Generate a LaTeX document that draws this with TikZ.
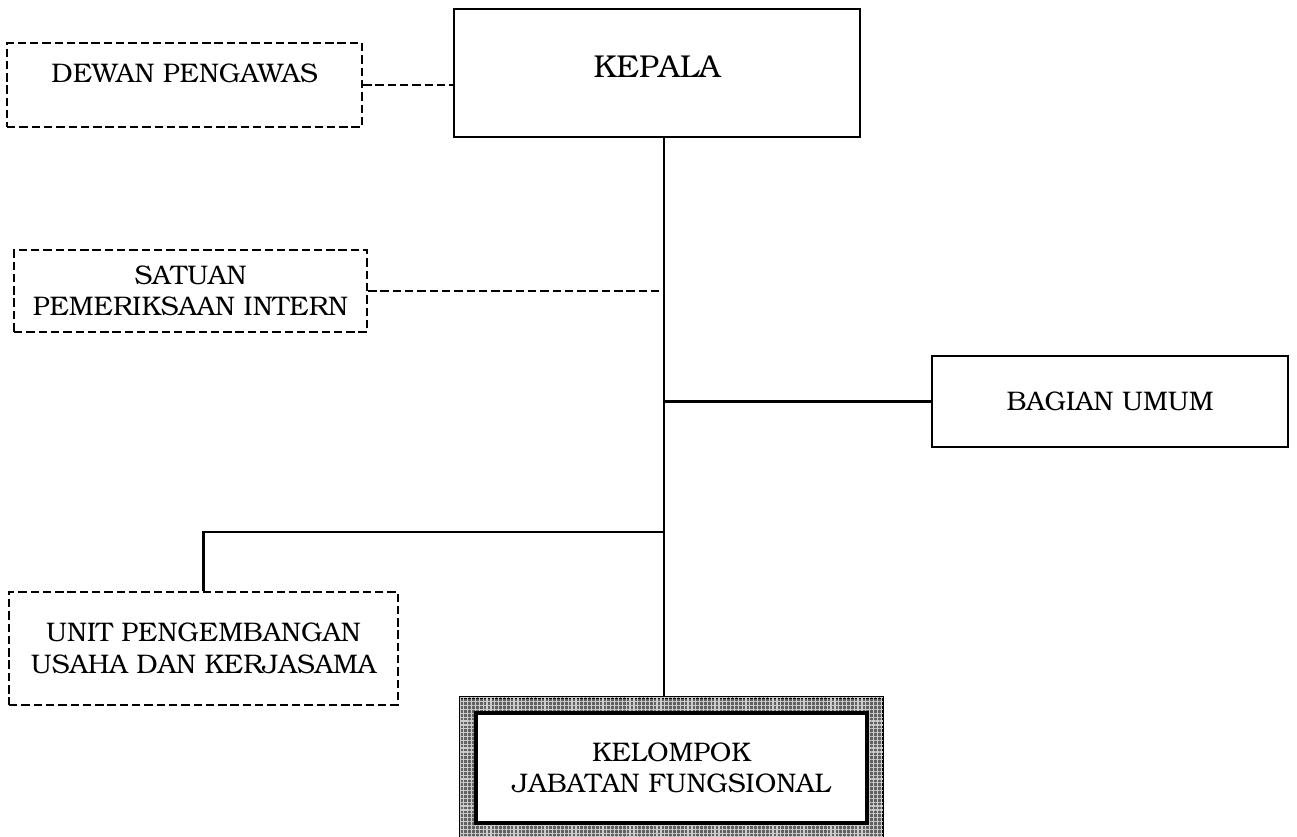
\documentclass[tikz,border=0pt]{standalone}
\usepackage[T1]{fontenc}
\usepackage{bookman}
\usetikzlibrary{patterns.meta}
\begin{document}
\begin{tikzpicture}[x=0.02cm,y=-0.02cm,
  box/.style={draw, line width=1.3pt, inner sep=0pt, align=center,
    font=\fontsize{15.3}{18}\selectfont},
  dbox/.style={box, dash pattern=on 4.8pt off 2.2pt},
  conn/.style={line width=1.3pt},
  dconn/.style={conn, dash pattern=on 4.8pt off 2.2pt}]
\useasboundingbox (0,0) rectangle (1297,837);

\node[box, minimum width=8.12cm, minimum height=2.56cm,
  font=\fontsize{18}{21}\selectfont, text height=12.3pt, text depth=7.4pt]
  (kepala) at (657,73) {KEPALA};
\node[dbox, minimum width=7.1cm, minimum height=1.68cm,
  text height=10.4pt, text depth=13.6pt] (dewan) at (184.5,85) {DEWAN PENGAWAS};
\node[dbox, minimum width=7.06cm, minimum height=1.64cm] (satuan) at (190.5,291)
  {SATUAN\\PEMERIKSAAN INTERN};
\node[box, minimum width=7.12cm, minimum height=1.82cm] (bagian) at (1110,401.5)
  {BAGIAN UMUM};
\node[dbox, minimum width=7.78cm, minimum height=2.26cm] (unit) at (203.5,648.5)
  {UNIT PENGEMBANGAN\\USAHA DAN KERJASAMA};

\node[draw, line width=1.3pt, minimum width=8.46cm, minimum height=2.84cm,
  fill=black!62, postaction={pattern={Lines[angle=0,distance=2.2pt,line width=0.7pt]}, pattern color=white!80!black},
  postaction={pattern={Lines[angle=90,distance=2.2pt,line width=0.7pt]}, pattern color=white!80!black}]
  (jfo) at (671.5,768.5) {};
\node[box, fill=white, line width=1.9pt, minimum width=7.82cm, minimum height=2.2cm]
  (jf) at (671.5,768) {KELOMPOK\\JABATAN FUNGSIONAL};

\coordinate (ttop) at (664,137);
\coordinate (tbot) at (664,698);
\coordinate (ubr) at (664,532);

\draw[conn] (kepala.south -| ttop) -- (jfo.north -| tbot);
\draw[dconn] (dewan.east) -- (dewan.east -| kepala.west);
\draw[dconn] (satuan.east) -- (satuan.east -| ttop);
\draw[conn] (bagian.west) -- (bagian.west -| ttop);
\draw[conn] (ubr) -| (unit.north);
\end{tikzpicture}
\end{document}
